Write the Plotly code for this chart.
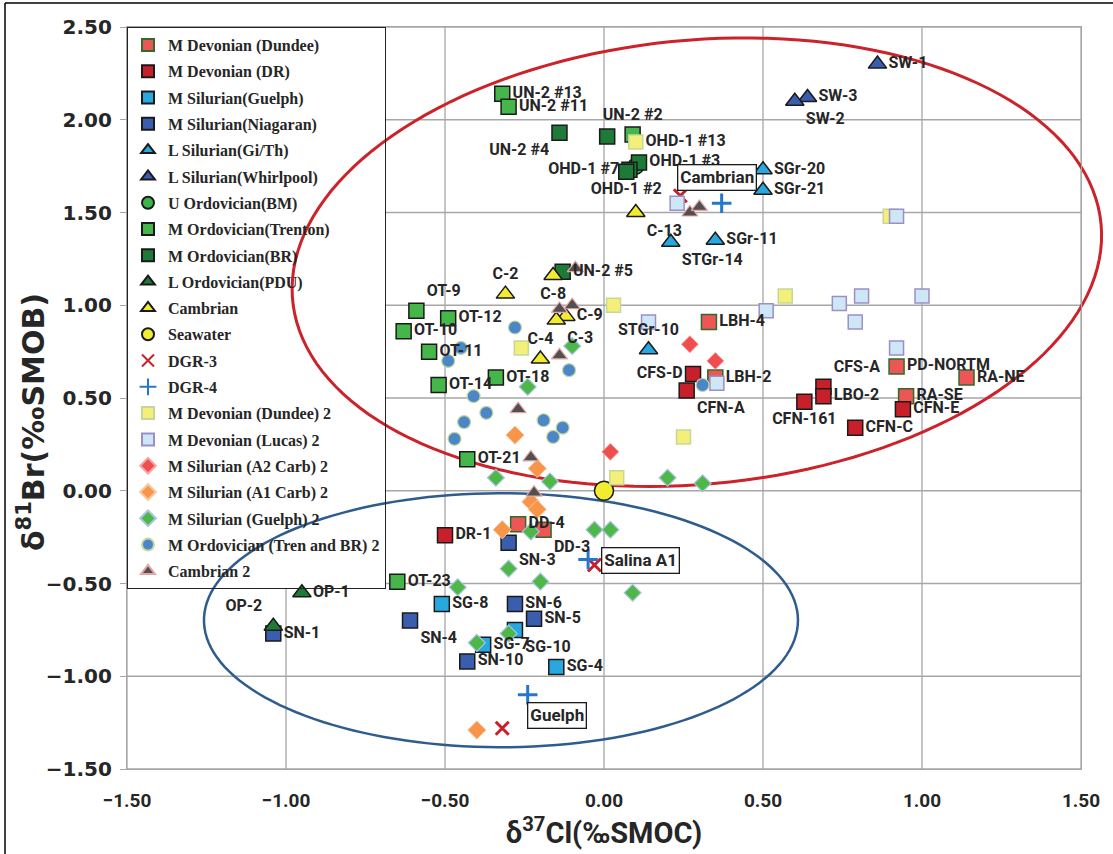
import numpy as np
import plotly.graph_objects as go

# ---------------- data ----------------
dundee_lbl = ["LBH-4", "LBH-2", "PD-NORTM", "RA-NE", "RA-SE", "DD-4", "DD-3"]
dundee_x = [0.33, 0.35, 0.92, 1.14, 0.95, -0.27, -0.19]
dundee_y = [0.91, 0.61, 0.67, 0.61, 0.51, -0.18, -0.21]

dr_lbl = ["CFS-D", "CFN-A", "CFS-A", "LBO-2", "CFN-161", "CFN-E", "CFN-C", "DR-1"]
dr_x = [0.28, 0.26, 0.69, 0.69, 0.63, 0.94, 0.79, -0.50]
dr_y = [0.63, 0.54, 0.56, 0.51, 0.48, 0.44, 0.34, -0.24]

sguelph_lbl = ["SG-8", "SG-10", "SG-7", "SG-4"]
sguelph_x = [-0.51, -0.28, -0.38, -0.15]
sguelph_y = [-0.61, -0.75, -0.83, -0.95]

niag_lbl = ["SN-1", "SN-3", "SN-4", "SN-6", "SN-5", "SN-10"]
niag_x = [-1.04, -0.30, -0.61, -0.28, -0.22, -0.43]
niag_y = [-0.77, -0.28, -0.70, -0.61, -0.69, -0.92]

gith_lbl = ["SGr-20", "SGr-21", "STGr-14", "SGr-11", "STGr-10"]
gith_x = [0.50, 0.50, 0.21, 0.35, 0.14]
gith_y = [1.73, 1.62, 1.34, 1.35, 0.76]

whirl_lbl = ["SW-1", "SW-3", "SW-2"]
whirl_x = [0.86, 0.64, 0.60]
whirl_y = [2.30, 2.12, 2.10]

bm_x = [0.10]
bm_y = [1.75]

trenton_lbl = ["UN-2 #13", "UN-2 #11", "UN-2 #2", "OT-9", "OT-12", "OT-10",
               "OT-11", "OT-14", "OT-18", "OT-21", "OT-23"]
trenton_x = [-0.32, -0.30, 0.09, -0.59, -0.49, -0.63, -0.55, -0.52, -0.34, -0.43, -0.65]
trenton_y = [2.14, 2.07, 1.92, 0.97, 0.93, 0.86, 0.75, 0.57, 0.61, 0.17, -0.49]

br_lbl = ["UN-2 #4", "", "OHD-1 #3", "OHD-1 #7", "OHD-1 #2", "UN-2 #5"]
br_x = [-0.14, 0.01, 0.11, 0.08, 0.07, -0.13]
br_y = [1.93, 1.91, 1.77, 1.73, 1.72, 1.18]

pdu_lbl = ["OP-1", "OP-2"]
pdu_x = [-0.95, -1.04]
pdu_y = [-0.55, -0.73]

camb_lbl = ["C-13", "C-2", "C-8", "C-9", "C-3", "C-4"]
camb_x = [0.10, -0.31, -0.16, -0.12, -0.15, -0.20]
camb_y = [1.50, 1.06, 1.16, 0.94, 0.92, 0.71]

sea_x = [0.00]
sea_y = [0.00]

dgr3_x = [0.24, -0.03, -0.32]
dgr3_y = [1.59, -0.40, -1.28]

dgr4_x = [0.37, -0.05, -0.24]
dgr4_y = [1.55, -0.37, -1.10]

dundee2_lbl = ["OHD-1 #13", "", "", "", "", "", ""]
dundee2_x = [0.10, 0.03, -0.26, 0.25, 0.04, 0.57, 0.90]
dundee2_y = [1.88, 1.00, 0.77, 0.29, 0.07, 1.05, 1.48]

lucas2_x = [0.23, 0.92, 0.51, 0.74, 0.81, 1.00, 0.79, 0.92, 0.14, 0.355]
lucas2_y = [1.55, 1.48, 0.97, 1.01, 1.05, 1.05, 0.91, 0.77, 0.91, 0.58]

a2_x = [0.27, 0.35, 0.02]
a2_y = [0.79, 0.70, 0.21]

a1_x = [-0.28, -0.21, -0.23, -0.21, -0.32, -0.40]
a1_y = [0.30, 0.12, -0.06, -0.10, -0.21, -1.29]

guelph2_x = [-0.10, -0.24, -0.34, -0.17, 0.20, 0.31, -0.23, -0.03, 0.02,
             -0.30, -0.20, -0.46, 0.09, -0.30, -0.40]
guelph2_y = [0.78, 0.56, 0.07, 0.05, 0.07, 0.04, -0.22, -0.21, -0.21,
             -0.42, -0.49, -0.52, -0.55, -0.77, -0.82]

trenbr2_x = [-0.28, -0.45, -0.49, -0.11, -0.41, -0.37, -0.44, -0.19, -0.13, -0.16, -0.47, 0.31]
trenbr2_y = [0.88, 0.77, 0.70, 0.65, 0.51, 0.42, 0.37, 0.38, 0.34, 0.29, 0.28, 0.57]

camb2_x = [0.27, 0.30, -0.09, -0.14, -0.10, -0.14, -0.27, -0.23, -0.22]
camb2_y = [1.50, 1.53, 1.20, 0.98, 1.00, 0.73, 0.44, 0.18, -0.01]

x_ticks = [-1.5, -1.0, -0.5, 0.0, 0.5, 1.0, 1.5]
y_ticks = [-1.5, -1.0, -0.5, 0.0, 0.5, 1.0, 1.5, 2.0, 2.5]

# ---------------- styling ----------------
W, H = 1113, 854
ML, MR, MT, MB = 127, 32, 27, 85
X_RANGE = [-1.5, 1.5]
Y_RANGE = [-1.5, 2.5]
PW, PH = W - ML - MR, H - MT - MB

SANS = "Roboto, Liberation Sans, Arial, sans-serif"
LABEL_FONT = dict(family=SANS, size=16, color="#262626", weight="bold")
DARK = "#1a1a1a"
GRID = "#A6A6A6"

series = [
    dict(name="M Devonian (Dundee)", x=dundee_x, y=dundee_y, lbl=dundee_lbl,
         pos=["middle right", "middle right", "middle right", "middle right", "middle right",
              "middle right", "bottom right"],
         sym="square", size=15, fill="#EE5555", line="#2F6B2F", lw=1.5),
    dict(name="M Devonian (DR)", x=dr_x, y=dr_y, lbl=dr_lbl,
         pos=["middle left", "bottom right", "top right", "middle right", "bottom center",
              "middle right", "middle right", "middle right"],
         sym="square", size=15, fill="#C8202A", line=DARK, lw=1.5),
    dict(name="M Silurian(Guelph)", x=sguelph_x, y=sguelph_y, lbl=sguelph_lbl,
         pos=["middle right", "bottom right", "middle right", "middle right"],
         sym="square", size=15, fill="#29A8E0", line=DARK, lw=1.5),
    dict(name="M Silurian(Niagaran)", x=niag_x, y=niag_y, lbl=niag_lbl,
         pos=["middle right", "bottom right", "bottom right", "middle right", "middle right", "middle right"],
         sym="square", size=15, fill="#3A5DAE", line=DARK, lw=1.5),
    dict(name="L Silurian(Gi/Th)", x=gith_x, y=gith_y, lbl=gith_lbl,
         pos=["middle right", "middle right", "bottom right", "middle right", "top center"],
         sym="triangle-up", size=16, fill="#29A8E0", line=DARK, lw=1.5),
    dict(name="L Silurian(Whirlpool)", x=whirl_x, y=whirl_y, lbl=whirl_lbl,
         pos=["middle right", "middle right", "bottom right"],
         sym="triangle-up", size=16, fill="#3A5DAE", line=DARK, lw=1.5),
    dict(name="U Ordovician(BM)", x=bm_x, y=bm_y, lbl=None, pos=None,
         sym="circle", size=16, fill="#3CB44A", line=DARK, lw=1.5),
    dict(name="M Ordovician(Trenton)", x=trenton_x, y=trenton_y, lbl=trenton_lbl,
         pos=["middle right", "middle right", "top center", "top right", "middle right", "middle right",
              "middle right", "middle right", "middle right", "middle right", "middle right"],
         sym="square", size=15, fill="#45B649", line=DARK, lw=1.5),
    dict(name="M Ordovician(BR)", x=br_x, y=br_y, lbl=br_lbl,
         pos=["bottom left", "middle right", "middle right", "middle left", "bottom center", "middle right"],
         sym="square", size=15, fill="#1E7B37", line=DARK, lw=1.5),
    dict(name="L Ordovician(PDU)", x=pdu_x, y=pdu_y, lbl=pdu_lbl, pos=["middle right", "top left"],
         sym="triangle-up", size=16, fill="#1E7B37", line=DARK, lw=1.5),
    dict(name="Cambrian", x=camb_x, y=camb_y, lbl=camb_lbl,
         pos=["bottom right", "top center", "bottom center", "middle right", "bottom right", "top center"],
         sym="triangle-up", size=16, fill="#F2EC30", line=DARK, lw=1.5),
    dict(name="Seawater", x=sea_x, y=sea_y, lbl=None, pos=None,
         sym="circle", size=19, fill="#F2EC30", line=DARK, lw=1.5),
    dict(name="DGR-3", x=dgr3_x, y=dgr3_y, lbl=None, pos=None,
         sym="x-thin", size=13, fill="#C8202A", line="#C8202A", lw=3),
    dict(name="DGR-4", x=dgr4_x, y=dgr4_y, lbl=None, pos=None,
         sym="cross-thin", size=14, fill="#2477CC", line="#2477CC", lw=3),
    dict(name="M Devonian (Dundee) 2", x=dundee2_x, y=dundee2_y, lbl=dundee2_lbl,
         pos=["middle right"] * 7, sym="square", size=14, fill="#F3EF78", line="#C5D79A", lw=1.5),
    dict(name="M Devonian (Lucas) 2", x=lucas2_x, y=lucas2_y, lbl=None, pos=None,
         sym="square", size=14, fill="#CDE7F7", line="#9C8FC6", lw=1.5),
    dict(name="M Silurian (A2 Carb) 2", x=a2_x, y=a2_y, lbl=None, pos=None,
         sym="diamond", size=13, fill="#F04E4E", line="#F6A3A3", lw=1),
    dict(name="M Silurian (A1 Carb) 2", x=a1_x, y=a1_y, lbl=None, pos=None,
         sym="diamond", size=14, fill="#F7964A", line="#F8C79C", lw=1),
    dict(name="M Silurian (Guelph) 2", x=guelph2_x, y=guelph2_y, lbl=None, pos=None,
         sym="diamond", size=13, fill="#4DB848", line="#A9C4DC", lw=1.2),
    dict(name="M Ordovician (Tren and BR) 2", x=trenbr2_x, y=trenbr2_y, lbl=None, pos=None,
         sym="circle", size=13, fill="#4A86C8", line="#C4D9A0", lw=1.2),
    dict(name="Cambrian 2", x=camb2_x, y=camb2_y, lbl=None, pos=None,
         sym="triangle-up", size=14, fill="#505050", line="#E5A5A5", lw=1.2),
]

fig = go.Figure()

for i, s in enumerate(series):
    fig.add_trace(go.Scatter(
        x=s["x"], y=s["y"], mode="markers", name=s["name"],
        legendgroup=f"g{i}",
        marker=dict(symbol=s["sym"], size=s["size"], color=s["fill"],
                    line=dict(color=s["line"], width=s["lw"])),
        hoverinfo="x+y+name",
    ))

# point labels (drawn on top, attached to the same data points)
for i, s in enumerate(series):
    if s["lbl"] is None:
        continue
    keep = [k for k, t in enumerate(s["lbl"]) if t]
    fig.add_trace(go.Scatter(
        x=[s["x"][k] for k in keep], y=[s["y"][k] for k in keep], mode="markers+text",
        text=[s["lbl"][k] for k in keep], textposition=[s["pos"][k] for k in keep],
        textfont=LABEL_FONT, showlegend=False, hoverinfo="skip",
        marker=dict(size=s["size"], color="rgba(0,0,0,0)", line=dict(width=0)),
    ))


def px_x(px):
    return (px - ML) / PW


def px_y(py):
    return (H - MB - py) / PH


def dx_paper(v):
    return (v - X_RANGE[0]) / (X_RANGE[1] - X_RANGE[0])


def dy_paper(v):
    return (v - Y_RANGE[0]) / (Y_RANGE[1] - Y_RANGE[0])


def ellipse_path(cx, cy, a_px, b_px, rot_deg, n=160):
    """Ellipse drawn in pixel space around a data-space centre, as a paper path."""
    t = np.linspace(0, 2 * np.pi, n)
    th = np.radians(rot_deg)
    ddx = a_px * np.cos(th) * np.cos(t) - b_px * np.sin(th) * np.sin(t)
    ddy = a_px * np.sin(th) * np.cos(t) + b_px * np.cos(th) * np.sin(t)
    xs = dx_paper(cx) + ddx / PW
    ys = dy_paper(cy) + ddy / PH
    return "M " + " L ".join(f"{a:.5f},{b:.5f}" for a, b in zip(xs, ys)) + " Z"


shapes = []
# gridlines (bottom-most decoration layer)
for xt in x_ticks:
    shapes.append(dict(type="line", xref="paper", yref="paper", layer="below",
                       x0=dx_paper(xt), x1=dx_paper(xt), y0=0, y1=1,
                       line=dict(color=GRID, width=1.3)))
for yt in y_ticks:
    shapes.append(dict(type="line", xref="paper", yref="paper", layer="below",
                       x0=0, x1=1, y0=dy_paper(yt), y1=dy_paper(yt),
                       line=dict(color=GRID, width=1.3)))
# white background of the legend box (covers grid, lies under the ellipses)
shapes.append(dict(type="rect", xref="paper", yref="paper", layer="below",
                   x0=px_x(127), x1=px_x(385), y0=px_y(589), y1=px_y(22),
                   fillcolor="white", line=dict(width=0)))
# ellipses
shapes.append(dict(type="path", xref="paper", yref="paper", layer="below",
                   path=ellipse_path(0.292, 1.232, 406, 222, 5.4),
                   line=dict(color="#CC2229", width=3)))
shapes.append(dict(type="path", xref="paper", yref="paper", layer="below",
                   path=ellipse_path(-0.324, -0.698, 297, 127, 0.0),
                   line=dict(color="#2E5C8E", width=2.5)))
# frame of the figure (left and top edges)
shapes.append(dict(type="line", xref="paper", yref="paper", layer="above",
                   x0=px_x(5), x1=px_x(5), y0=px_y(854), y1=px_y(3),
                   line=dict(color="#000000", width=1.5)))
shapes.append(dict(type="line", xref="paper", yref="paper", layer="above",
                   x0=px_x(5), x1=px_x(W), y0=px_y(3), y1=px_y(3),
                   line=dict(color="#000000", width=1.5)))

box_font = dict(family=SANS, size=17, color="#262626", weight="bold")
annotations = [
    dict(x=0.355, y=1.688, text="Cambrian", showarrow=False, font=box_font,
         bordercolor="#1a1a1a", borderwidth=1.3, borderpad=2, bgcolor="white"),
    dict(x=0.116, y=-0.375, text="Salina A1", showarrow=False, font=box_font,
         bordercolor="#1a1a1a", borderwidth=1.3, borderpad=2, bgcolor="white"),
    dict(x=-0.148, y=-1.214, text="Guelph", showarrow=False, font=box_font,
         bordercolor="#1a1a1a", borderwidth=1.3, borderpad=2, bgcolor="white"),
    # y-axis title placed where the reference has it
    dict(xref="paper", yref="paper", x=px_x(31), y=px_y(422), xanchor="center", yanchor="middle",
         text="δ<sup>81</sup>Br(‰SMOB)", textangle=-90, showarrow=False,
         font=dict(family="DejaVu Sans, Verdana, sans-serif", size=30, color="#262626", weight="bold")),
]

fig.update_layout(
    width=W, height=H,
    margin=dict(l=ML, r=MR, t=MT, b=MB, autoexpand=False),
    paper_bgcolor="white", plot_bgcolor="white",
    shapes=shapes, annotations=annotations,
    showlegend=True,
    legend=dict(
        x=0, y=1, xanchor="left", yanchor="top",
        bgcolor="rgba(0,0,0,0)", bordercolor="#222222", borderwidth=1,
        font=dict(family="Liberation Serif, DejaVu Serif, serif", size=16, color="#262626", weight="bold"),
        traceorder="grouped", tracegroupgap=2.5, itemsizing="constant",
    ),
    xaxis=dict(
        range=X_RANGE, tickvals=x_ticks, tickformat=".2f",
        showgrid=False, showline=True, linecolor=GRID, linewidth=1.3, mirror=True,
        zeroline=False, ticks="", ticklabelstandoff=14,
        tickfont=dict(family=SANS, size=19, color="#262626", weight="bold"),
        title=dict(text="δ<sup>37</sup>Cl(‰SMOC)", standoff=6,
                   font=dict(family=SANS, size=29, color="#262626", weight="bold")),
    ),
    yaxis=dict(
        range=Y_RANGE, tickvals=y_ticks, tickformat=".2f",
        showgrid=False, showline=True, linecolor=GRID, linewidth=1.3, mirror=True,
        zeroline=False, ticks="outside", ticklen=6, tickcolor=GRID, ticklabelstandoff=4,
        tickfont=dict(family="DejaVu Sans, Verdana, sans-serif", size=20, color="#262626", weight="bold"),
    ),
)

fig.write_html("out.html", config={"displayModeBar": False},
               post_script="document.body.style.margin='0';")
